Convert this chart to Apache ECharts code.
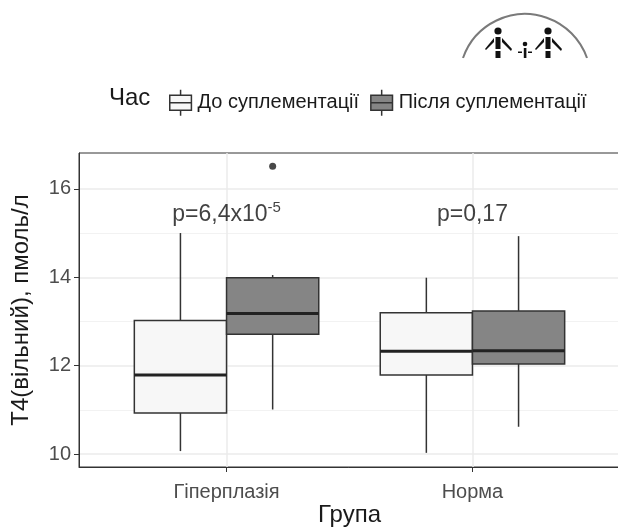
<!DOCTYPE html>
<html>
<head>
<meta charset="utf-8">
<script src="https://cdn.jsdelivr.net/npm/echarts@6/dist/echarts.min.js"></script>
<style>
  html, body { margin: 0; padding: 0; background: #fff; }
  #main { width: 618px; height: 529px; }
</style>
</head>
<body>
<div id="main"></div>
<script>
var dom = document.getElementById('main');
var myChart = echarts.init(dom);

// groups on the x axis (positions 1, 2)
var groups = ['Гіперплазія', 'Норма'];
var seriesNames = ['До суплементації', 'Після суплементації'];
// [low whisker, Q1, median, Q3, high whisker] per group
var beforeStats = [
  [10.07, 10.93, 11.79, 13.02, 15.00],
  [10.03, 11.79, 12.33, 13.20, 13.99]
];
var afterStats = [
  [11.01, 12.71, 13.18, 13.99, 14.05],
  [10.62, 12.04, 12.34, 13.24, 14.93]
];
// outliers: [group, value]
var afterOutliers = [[1, 16.51]];
// p-value annotations
var pBase = ['p=6,4x10', 'p=0,17'];
var pExp = ['-5', ''];
var pY = 15.42;
var yMajor = [10, 12, 14, 16];
var yMinor = [11, 13, 15];

var HALF = 0.1875; // half of box width in group units
var FONT = 'Liberation Sans, Arial, sans-serif';

function toRows(stats) {
  return stats.map(function (s, i) { return [i + 1].concat(s); });
}

function boxRenderer(offset) {
  return function (params, api) {
    var g = api.value(0) + offset;
    var x = api.coord([g, 0])[0];
    var left = api.coord([g - HALF, 0])[0];
    var right = api.coord([g + HALF, 0])[0];
    var yLow = api.coord([g, api.value(1)])[1];
    var yQ1 = api.coord([g, api.value(2)])[1];
    var yMed = api.coord([g, api.value(3)])[1];
    var yQ3 = api.coord([g, api.value(4)])[1];
    var yHigh = api.coord([g, api.value(5)])[1];
    var lineStyle = { stroke: '#333', lineWidth: 1.5 };
    return {
      type: 'group',
      children: [
        { type: 'line', shape: { x1: x, y1: yHigh, x2: x, y2: yQ3 }, style: lineStyle },
        { type: 'line', shape: { x1: x, y1: yQ1, x2: x, y2: yLow }, style: lineStyle },
        { type: 'rect', shape: { x: left, y: yQ3, width: right - left, height: yQ1 - yQ3 },
          style: { fill: api.visual('color'), stroke: '#333', lineWidth: 1.5 } },
        { type: 'line', shape: { x1: left, y1: yMed, x2: right, y2: yMed },
          style: { stroke: '#222', lineWidth: 3 } }
      ]
    };
  };
}

var option = {
  animation: false,
  textStyle: { fontFamily: FONT },
  title: {
    text: 'Час',
    left: 104,
    top: 81,
    textStyle: { fontSize: 24, fontWeight: 'normal', color: '#1a1a1a', fontFamily: FONT }
  },
  legend: {
    data: seriesNames,
    left: 164,
    top: 84,
    itemWidth: 24,
    itemHeight: 26,
    itemGap: 11,
    icon: 'path://M10,0 L10,5 M0,5 L20,5 L20,19 L0,19 Z M0,12 L20,12 M10,19 L10,24',
    itemStyle: { borderColor: '#333', borderWidth: 1.5 },
    textStyle: { fontSize: 20, color: '#1a1a1a', fontFamily: FONT }
  },
  grid: {
    left: 79,
    top: 153,
    right: -2,
    bottom: 62,
    outerBoundsMode: 'none',
    show: true,
    backgroundColor: '#fff',
    borderColor: '#333',
    borderWidth: 1
  },
  xAxis: {
    type: 'value',
    min: 0.4,
    max: 2.6,
    name: 'Група',
    nameLocation: 'middle',
    nameGap: 36,
    nameMoveOverlap: false,
    nameTextStyle: { fontSize: 24, color: '#1a1a1a' },
    axisLine: { show: true, lineStyle: { color: '#333' } },
    axisTick: { show: true, length: 5, customValues: [1, 2], lineStyle: { color: '#333' } },
    axisLabel: {
      customValues: [1, 2],
      margin: 15,
      fontSize: 20,
      color: '#4d4d4d',
      formatter: function (v) { return groups[Math.round(v) - 1]; }
    },
    splitLine: { show: true, lineStyle: { color: '#ebebeb', width: 1.5 } }
  },
  yAxis: [
    {
      type: 'value',
      min: 9.71,
      max: 16.81,
      name: 'T4(вільний), пмоль/л',
      nameLocation: 'middle',
      nameGap: 46,
      nameMoveOverlap: false,
      nameTextStyle: { fontSize: 24, color: '#1a1a1a' },
      axisLine: { show: true, lineStyle: { color: '#333' } },
      axisTick: { show: true, length: 5, customValues: yMajor, lineStyle: { color: '#333' } },
      axisLabel: { customValues: yMajor, margin: 8, fontSize: 20, color: '#4d4d4d' },
      splitLine: { show: true, lineStyle: { color: '#ebebeb', width: 1.5 } }
    },
    {
      type: 'value',
      min: 9.71,
      max: 16.81,
      position: 'left',
      axisLine: { show: false },
      axisTick: { show: false, customValues: yMinor },
      axisLabel: { show: false },
      splitLine: { show: true, lineStyle: { color: '#f2f2f2', width: 1 } }
    }
  ],
  series: [
    {
      name: seriesNames[0],
      type: 'custom',
      renderItem: boxRenderer(-HALF),
      itemStyle: { color: '#f7f7f7' },
      encode: { x: 0, y: [1, 2, 3, 4, 5] },
      data: toRows(beforeStats),
      z: 3
    },
    {
      name: seriesNames[1],
      type: 'custom',
      renderItem: boxRenderer(HALF),
      itemStyle: { color: '#858585' },
      encode: { x: 0, y: [1, 2, 3, 4, 5] },
      data: toRows(afterStats),
      z: 3
    },
    {
      name: 'outliers',
      type: 'scatter',
      symbolSize: 7,
      itemStyle: { color: '#1a1a1a' },
      data: afterOutliers.map(function (o) { return [o[0] + HALF, o[1]]; }),
      z: 4
    },
    {
      name: 'p',
      type: 'scatter',
      symbolSize: 0,
      data: groups.map(function (g, i) { return [i + 1, pY]; }),
      label: {
        show: true,
        position: 'inside',
        formatter: function (p) {
          var i = p.dataIndex;
          return '{t|' + pBase[i] + '}' + (pExp[i] ? '{s|' + pExp[i] + '}' : '');
        },
        rich: {
          t: { fontSize: 23, color: '#111', fontFamily: FONT },
          s: { fontSize: 15, color: '#111', fontFamily: FONT, verticalAlign: 'top', padding: [0, 0, 14, 0] }
        }
      },
      z: 5
    }
  ],
  graphic: [
    { type: 'arc', shape: { cx: 525, cy: 79.7, r: 65.7, startAngle: -2.805, endAngle: -0.3367, clockwise: true },
      style: { stroke: '#7a7a7a', lineWidth: 2, fill: null } },
    // left figure
    { type: 'circle', shape: { cx: 498, cy: 31, r: 3.6 }, style: { fill: '#111' } },
    { type: 'rect', shape: { x: 495.5, y: 37, width: 5, height: 12 }, style: { fill: '#111' } },
    { type: 'rect', shape: { x: 495.5, y: 51, width: 5, height: 7 }, style: { fill: '#111' } },
    { type: 'polygon', shape: { points: [[494, 38], [494, 42], [486, 50], [485, 49]] }, style: { fill: '#111' } },
    { type: 'polygon', shape: { points: [[502, 38], [502, 42], [511, 51], [512, 49]] }, style: { fill: '#111' } },
    // child
    { type: 'circle', shape: { cx: 525, cy: 44, r: 2.3 }, style: { fill: '#111' } },
    { type: 'rect', shape: { x: 523.8, y: 48, width: 2.6, height: 10 }, style: { fill: '#111' } },
    { type: 'rect', shape: { x: 518, y: 51.5, width: 4, height: 1.5 }, style: { fill: '#111' } },
    { type: 'rect', shape: { x: 528, y: 51.5, width: 4, height: 1.5 }, style: { fill: '#111' } },
    // right figure
    { type: 'circle', shape: { cx: 548, cy: 31, r: 3.6 }, style: { fill: '#111' } },
    { type: 'rect', shape: { x: 545.5, y: 37, width: 5, height: 12 }, style: { fill: '#111' } },
    { type: 'rect', shape: { x: 545.5, y: 51, width: 5, height: 7 }, style: { fill: '#111' } },
    { type: 'polygon', shape: { points: [[544, 38], [544, 42], [536, 50], [535, 49]] }, style: { fill: '#111' } },
    { type: 'polygon', shape: { points: [[552, 38], [552, 42], [561, 51], [562, 49]] }, style: { fill: '#111' } },
    // cut the logo at its baseline
    { type: 'rect', shape: { x: 440, y: 58.5, width: 170, height: 12 }, style: { fill: '#fff' }, z: 10 }
  ]
};

myChart.setOption(option);
window.addEventListener('resize', myChart.resize);
</script>
</body>
</html>
